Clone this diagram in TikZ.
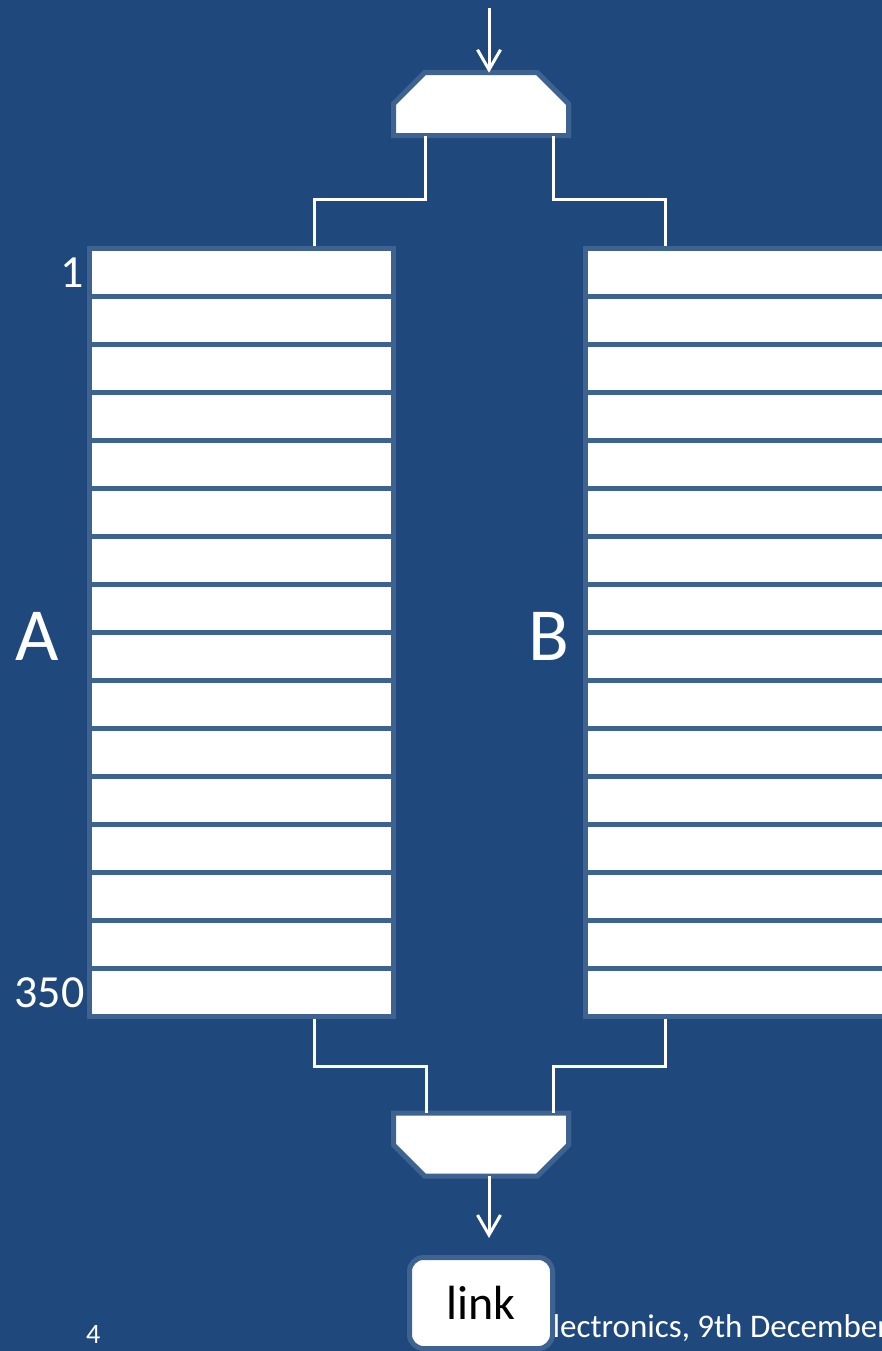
\documentclass[tikz,border=0pt]{standalone}
\usepackage{fontspec}
\setmainfont{Carlito}
\usetikzlibrary{arrows.meta,calc}
\definecolor{sBack}{HTML}{1F497D}
\definecolor{sEdge}{HTML}{3F6391}
\definecolor{sInk}{HTML}{000000}

\begin{document}
\begin{tikzpicture}[
  x=1pt, y=-1pt,
  >={Straight Barb[length=20pt,width=23pt]},
  wire/.style={draw=white, line width=3pt},
  cell/.style={rectangle, draw=sEdge, fill=white, line width=5pt,
               minimum width=304pt, minimum height=48pt, inner sep=0pt},
  mux/.style={rectangle, minimum width=175pt, minimum height=63pt,
              inner sep=0pt, outer sep=0pt},
  muxbody/.style={draw=sEdge, fill=white, line width=5pt, line join=miter},
  linkbox/.style={rectangle, rounded corners=14pt, draw=sEdge, fill=white, line width=5pt,
                  minimum width=143pt, minimum height=91pt, inner sep=0pt,
                  text=sInk, font=\fontsize{48}{50}\selectfont},
  idx/.style={text=white, inner sep=2pt, font=\fontsize{46}{48}\selectfont},
  big/.style={text=white, inner sep=0pt, font=\fontsize{75}{78}\selectfont},
  foot/.style={text=white, inner sep=0pt, font=\fontsize{33}{35}\selectfont},
]
\useasboundingbox (0,0) rectangle (882,1351);
\clip (0,0) rectangle (882,1351);
\fill[sBack] (0,0) rectangle (882,1351);

% buffers
\foreach \i in {1,...,16} {
  \node[cell] (A\i) at (241, 224.5+48*\i) {};
  \node[cell] (B\i) at (737.5, 224.5+48*\i) {};
}
\node[idx, anchor=east] (n1) at (A1.west) {1};
\node[idx, anchor=east] (n350) at (A16.west) {350};
\node[big] (labA) at (37,636) {A};
\node[big] (labB) at (549,636) {B};

% demux on top, mux below (chamfered outlines)
\node[mux] (muxin) at (481,104.25) {};
\node[mux] (muxout) at (481,1144.5) {};
\path[muxbody] (muxin.south west) -- ($(muxin.north west)+(0,31)$)
  -- ($(muxin.north west)+(31,0)$) -- ($(muxin.north east)+(-31,0)$)
  -- ($(muxin.north east)+(0,31)$) -- (muxin.south east) -- cycle;
\path[muxbody] (muxout.north west) -- ($(muxout.south west)+(0,-31)$)
  -- ($(muxout.south west)+(31,0)$) -- ($(muxout.south east)+(-31,0)$)
  -- ($(muxout.south east)+(0,-31)$) -- (muxout.north east) -- cycle;

% footer, then the link box over it
\node[foot, anchor=base west] (date) at (536,1337) {electronics, 9th December};
\node[foot, anchor=base west, font=\fontsize{28}{30}\selectfont] (pnum) at (86,1343) {4};
\node[linkbox] (link) at (481,1303) {link};

% wiring
\coordinate (feed) at (489,8);
\draw[wire, ->] (feed) -- ($(muxin.north)+(8,0)$);
\draw[wire] ($(muxin.south)+(-56,0)$) -- ++(0,64) -| ($(A1.north)+(73,0)$);
\draw[wire] ($(muxin.south)+(72,0)$) -- ++(0,64) -| ($(B1.north)+(-72.5,0)$);
\draw[wire] ($(A16.south)+(73,0)$) -- ++(0,47) -| ($(muxout.north)+(-55,0)$);
\draw[wire] ($(B16.south)+(-72.5,0)$) -- ++(0,47) -| ($(muxout.north)+(72,0)$);
\draw[wire, ->] ($(muxout.south)+(8,0)$) -- ($(link.north)+(8,-17)$);

\end{tikzpicture}
\end{document}
